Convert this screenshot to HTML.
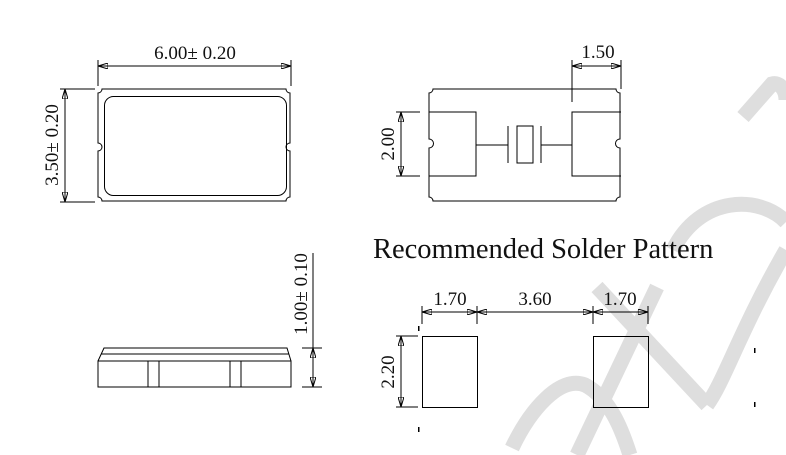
<!DOCTYPE html>
<html><head><meta charset="utf-8"><style>
html,body{margin:0;padding:0;background:#fff;}
svg{display:block}
text{font-family:"Liberation Serif",serif;fill:#111}
</style></head><body>
<svg width="786" height="455" viewBox="0 0 786 455" xmlns="http://www.w3.org/2000/svg">
<defs>
<marker id="a" viewBox="0 0 10 6" refX="10" refY="3" markerWidth="10" markerHeight="6" orient="auto-start-reverse" markerUnits="userSpaceOnUse"><path d="M0,0 L10,3 L0,6 z" fill="none" stroke="#000" stroke-width="1"/></marker>
</defs>
<!-- watermark -->
<g fill="none" stroke="#dedede" stroke-width="15" stroke-linecap="butt">
<path d="M512,448 C530,410 560,375 585,385 C610,398 622,430 630,455"/>
<path d="M657,287 L577,455"/>
<path d="M597,287 L707,405"/>
<path d="M707,405 C725,380 740,330 786,250"/>
<path d="M673,250 C700,195 760,195 786,222"/>
<path d="M743,117 L772,84 C780,82 786,90 786,100"/>
</g>
<g fill="none" stroke="#000" stroke-width="1">
<!-- top-left package -->
<path d="M102,89 H286 A4,4 0 0 0 290,93 V143 A4,4 0 0 0 290,151 V197 A4,4 0 0 0 286,201 H102 A4,4 0 0 0 98,197 V151 A4,4 0 0 0 98,143 V93 A4,4 0 0 0 102,89 Z"/>
<rect x="104.5" y="96.5" width="182" height="99" rx="9"/>
<line x1="98" y1="60" x2="98" y2="86"/><line x1="291" y1="60" x2="291" y2="86"/>
<line x1="98" y1="66" x2="291" y2="66" marker-start="url(#a)" marker-end="url(#a)"/>
<line x1="60" y1="89" x2="95" y2="89"/><line x1="60" y1="202" x2="95" y2="202"/>
<line x1="65" y1="89" x2="65" y2="202" marker-start="url(#a)" marker-end="url(#a)"/>
<!-- top-right -->
<path d="M433,89 H616 A4,4 0 0 0 620,93 V139 A4,4 0 0 0 620,148 V197 A4,4 0 0 0 616,201 H433 A4,4 0 0 0 429,197 V148 A4,4 0 0 0 429,139 V93 A4,4 0 0 0 433,89 Z"/>
<path d="M429,112 H476 V176 H429"/>
<path d="M621,112 H572 V176 H621"/>
<line x1="476" y1="145" x2="508" y2="145"/><line x1="508" y1="126" x2="508" y2="163"/>
<rect x="517" y="126" width="16" height="37"/>
<line x1="541" y1="126" x2="541" y2="163"/><line x1="541" y1="145" x2="572" y2="145"/>
<line x1="572" y1="60" x2="572" y2="102"/><line x1="621" y1="60" x2="621" y2="89"/>
<line x1="572" y1="66" x2="621" y2="66" marker-start="url(#a)" marker-end="url(#a)"/>
<line x1="396" y1="112" x2="420" y2="112"/><line x1="396" y1="176" x2="420" y2="176"/>
<line x1="401" y1="112" x2="401" y2="176" marker-start="url(#a)" marker-end="url(#a)"/>
<!-- side view -->
<path d="M98,361 L104,348 H287 L291,361"/>
<line x1="101" y1="354" x2="289" y2="354"/>
<rect x="98" y="361" width="193" height="26"/>
<line x1="148" y1="361" x2="148" y2="387"/><line x1="159" y1="361" x2="159" y2="387"/>
<line x1="230" y1="361" x2="230" y2="387"/><line x1="241" y1="361" x2="241" y2="387"/>
<line x1="313" y1="253" x2="313" y2="387"/>
<line x1="302" y1="348" x2="322" y2="348"/><line x1="302" y1="387" x2="322" y2="387"/>
<line x1="313" y1="348" x2="313" y2="387" marker-start="url(#a)" marker-end="url(#a)"/>
<!-- solder pattern -->
<rect x="422.5" y="336.5" width="55" height="71"/>
<rect x="593.5" y="336.5" width="55" height="71"/>
<line x1="422" y1="306" x2="422" y2="324"/><line x1="477" y1="306" x2="477" y2="324"/>
<line x1="593" y1="306" x2="593" y2="324"/><line x1="648" y1="306" x2="648" y2="324"/>
<line x1="422" y1="312" x2="477" y2="312" marker-start="url(#a)" marker-end="url(#a)"/>
<line x1="477" y1="312" x2="593" y2="312" marker-start="url(#a)" marker-end="url(#a)"/>
<line x1="593" y1="312" x2="648" y2="312" marker-start="url(#a)" marker-end="url(#a)"/>
<line x1="396" y1="336" x2="418" y2="336"/><line x1="396" y1="407" x2="418" y2="407"/>
<line x1="401" y1="336" x2="401" y2="407" marker-start="url(#a)" marker-end="url(#a)"/>
</g>
<g fill="#000"><rect x="418" y="326" width="1.5" height="5"/><rect x="418" y="427" width="1.5" height="5"/>
<rect x="754" y="348" width="1.5" height="5"/><rect x="754" y="402" width="1.5" height="5"/></g>
<text x="195" y="59" font-size="19" text-anchor="middle">6.00± 0.20</text>
<text transform="translate(58,145) rotate(-90)" font-size="19" text-anchor="middle">3.50± 0.20</text>
<text x="598" y="58" font-size="19" text-anchor="middle">1.50</text>
<text transform="translate(394,144) rotate(-90)" font-size="19" text-anchor="middle">2.00</text>
<text transform="translate(307,294) rotate(-90)" font-size="19" text-anchor="middle">1.00± 0.10</text>
<text x="373" y="258" font-size="28.5">Recommended Solder Pattern</text>
<text x="450" y="305" font-size="19" text-anchor="middle">1.70</text>
<text x="535" y="305" font-size="19" text-anchor="middle">3.60</text>
<text x="620" y="305" font-size="19" text-anchor="middle">1.70</text>
<text transform="translate(394,372) rotate(-90)" font-size="19" text-anchor="middle">2.20</text>
</svg>
</body></html>
